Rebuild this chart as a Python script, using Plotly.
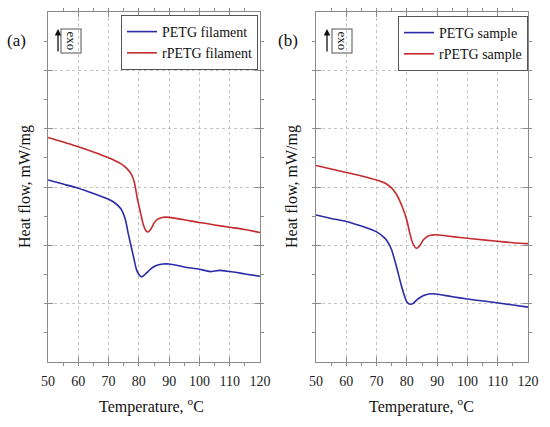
## DSC curves, PETG vs rPETG
import plotly.graph_objects as go

## panel (a) - filaments
temp_a_blue = [50, 55, 60, 65, 70, 72, 74, 75.5, 76.5, 78.2, 79.3, 80.3, 81, 82, 83, 84.5, 86, 88, 90, 95, 100, 103.5, 106.5, 110, 115, 120]
hf_a_blue = [3.12, 3.05, 2.98, 2.89, 2.79, 2.73, 2.63, 2.45, 2.20, 1.81, 1.57, 1.48, 1.46, 1.50, 1.55, 1.62, 1.66, 1.68, 1.68, 1.63, 1.59, 1.55, 1.57, 1.55, 1.51, 1.47]
temp_a_red = [50, 55, 60, 65, 70, 74, 76, 77.5, 78.5, 79.5, 80.5, 81.5, 82.5, 83, 84, 85, 86, 88, 90, 95, 100, 105, 110, 115, 120]
hf_a_red = [3.85, 3.77, 3.69, 3.60, 3.50, 3.40, 3.32, 3.22, 3.08, 2.80, 2.57, 2.35, 2.24, 2.23, 2.28, 2.38, 2.44, 2.48, 2.48, 2.44, 2.39, 2.35, 2.31, 2.27, 2.22]

## panel (b) - printed samples
temp_b_blue = [50, 55, 60, 65, 70, 72.8, 74, 75, 76.6, 78.3, 80, 81.3, 82.2, 83.2, 84.5, 86, 88.7, 95, 100, 106, 112, 120]
hf_b_blue = [2.52, 2.46, 2.41, 2.33, 2.23, 2.12, 2.03, 1.92, 1.63, 1.29, 1.03, 0.99, 1.01, 1.06, 1.11, 1.15, 1.17, 1.12, 1.08, 1.04, 1.00, 0.94]
temp_b_red = [50, 55, 60, 65, 70, 73, 75, 76.5, 77.5, 78.8, 80, 81, 82, 83.2, 84.2, 85.4, 87, 89, 95, 100, 106, 112, 116, 120]
hf_b_red = [3.37, 3.31, 3.25, 3.19, 3.12, 3.06, 2.98, 2.88, 2.78, 2.62, 2.43, 2.20, 2.03, 1.95, 1.99, 2.09, 2.16, 2.18, 2.15, 2.12, 2.09, 2.06, 2.04, 2.03]

names_a = ["PETG filament", "rPETG filament"]
names_b = ["PETG sample", "rPETG sample"]
x_ticks = [50, 60, 70, 80, 90, 100, 110, 120]

BLUE = "#2b2ba8"
RED = "#c42a2e"
FONT = "Liberation Serif"
W, H = 550, 427

def px(x):
    return x / W
def py(y):
    return 1 - y / H

fig = go.Figure()
## the curves
fig.add_trace(go.Scatter(x=temp_a_blue, y=hf_a_blue, mode="lines", name=names_a[0],
                         line=dict(color=BLUE, width=1.6, shape="spline", smoothing=0.6),
                         xaxis="x", yaxis="y", legend="legend"))
fig.add_trace(go.Scatter(x=temp_a_red, y=hf_a_red, mode="lines", name=names_a[1],
                         line=dict(color=RED, width=1.6, shape="spline", smoothing=0.6),
                         xaxis="x", yaxis="y", legend="legend"))
fig.add_trace(go.Scatter(x=temp_b_blue, y=hf_b_blue, mode="lines", name=names_b[0],
                         line=dict(color=BLUE, width=1.6, shape="spline", smoothing=0.6),
                         xaxis="x2", yaxis="y2", legend="legend2"))
fig.add_trace(go.Scatter(x=temp_b_red, y=hf_b_red, mode="lines", name=names_b[1],
                         line=dict(color=RED, width=1.6, shape="spline", smoothing=0.6),
                         xaxis="x2", yaxis="y2", legend="legend2"))

## shared axis styling (automargin off, otherwise the template pushes the plot around)
xax = dict(range=[50, 120], tickvals=x_ticks, showline=True, linecolor="#8a8a8a", linewidth=1,
           mirror="allticks", ticks="inside", ticklen=5, tickcolor="#8a8a8a",
           showgrid=True, gridcolor="#c4c4c4", griddash="dot", gridwidth=1,
           minor=dict(dtick=5, ticklen=3, tickcolor="#8a8a8a", showgrid=False),
           tickfont=dict(family=FONT, size=14, color="#222"), ticklabelstandoff=6,
           zeroline=False, fixedrange=True, automargin=False)
yax = dict(range=[0, 6], dtick=1, showline=True, linecolor="#8a8a8a", linewidth=1,
           mirror="allticks", ticks="inside", ticklen=5, tickcolor="#8a8a8a",
           showgrid=True, gridcolor="#c4c4c4", griddash="dot", gridwidth=1,
           minor=dict(dtick=0.5, ticklen=3, tickcolor="#8a8a8a", showgrid=False),
           showticklabels=False, zeroline=False, fixedrange=True, automargin=False)

dom_y = [py(362), py(12)]
fig.update_layout(
    width=W, height=H, margin=dict(l=0, r=0, t=0, b=0, autoexpand=False),
    paper_bgcolor="white", plot_bgcolor="white",
    xaxis=dict(xax, domain=[px(48), px(260)], anchor="y"),
    yaxis=dict(yax, domain=dom_y, anchor="x"),
    xaxis2=dict(xax, domain=[px(316), px(528)], anchor="y2"),
    yaxis2=dict(yax, domain=dom_y, anchor="x2"),
    legend=dict(x=px(121), y=py(15), xanchor="left", yanchor="top",
                bordercolor="#555", borderwidth=1, bgcolor="white",
                font=dict(family=FONT, size=14, color="#111"), tracegroupgap=0,
                itemwidth=30),
    legend2=dict(x=px(398), y=py(16), xanchor="left", yanchor="top",
                 bordercolor="#555", borderwidth=1, bgcolor="white",
                 font=dict(family=FONT, size=14, color="#111"), tracegroupgap=0,
                 itemwidth=30),
    showlegend=True,
)

## texts: panel labels, axis titles, exo markers
## (anchors set explicitly, "auto" shifts paper annotations)
def note(text, x, y, size, angle=0, **kw):
    return dict(text=text, x=px(x), y=py(y), xref="paper", yref="paper",
                xanchor="center", yanchor="middle", textangle=angle, showarrow=False,
                font=dict(family=FONT, size=size, color="#111"), **kw)

annots = []
for lab, lx in [("(a)", 16), ("(b)", 288)]:
    annots.append(note(lab, lx, 40, 17))
for tx in [25, 292]:
    annots.append(note("Heat flow, mW/mg", tx, 187, 16, angle=-90))
for tx in [151, 422]:
    annots.append(note("Temperature, <sup>o</sup>C", tx, 405, 16))
for ax_x, box_x in [(58, 71.5), (327, 342.5)]:
    ## the arrow pointing up
    annots.append(dict(text="", x=px(ax_x), y=py(29), xref="paper", yref="paper",
                       showarrow=True, ax=0, ay=24, arrowhead=2, arrowsize=1,
                       arrowwidth=1.3, arrowcolor="#111"))
    annots.append(note("exo", box_x, 41, 13, angle=90, bordercolor="#555",
                       borderwidth=1, borderpad=2))
fig.update_layout(annotations=annots)

## the browser's default 8px body margin would push the figure off the window
fig.write_html("out.html", config={"displayModeBar": False},
               post_script="document.body.style.margin='0';")
